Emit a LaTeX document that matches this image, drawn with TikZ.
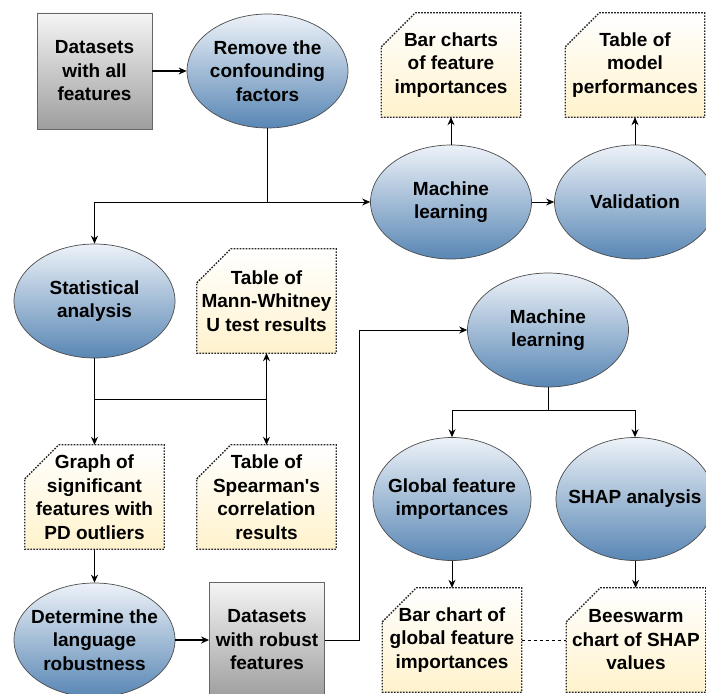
\documentclass[tikz,border=0pt]{standalone}
\usepackage{fontspec}
\setmainfont{Liberation Sans}
\usetikzlibrary{shapes.geometric,positioning,arrows.meta,backgrounds}

\definecolor{ellTop}{HTML}{EDF2F8}
\definecolor{ellBot}{HTML}{5886B4}
\definecolor{boxTop}{HTML}{F5F5F5}
\definecolor{boxBot}{HTML}{9E9E9E}
\definecolor{docBot}{HTML}{FFF2CC}

\tikzset{
  every node/.style={font=\fontsize{19}{23.5}\selectfont\bfseries, align=center, inner sep=0pt},
  process/.style={ellipse, draw=black!70, line width=0.7pt, top color=ellTop, bottom color=ellBot, inner xsep=-15pt, minimum width=161pt, minimum height=114pt},
  dataset/.style={rectangle, draw=black!60, line width=0.8pt, top color=boxTop, bottom color=boxBot, minimum width=115pt, minimum height=116pt},
  output/.style={rectangle, minimum width=139pt, minimum height=104pt},
  docline/.style={draw=black!85, dash pattern=on 1.6pt off 1.4pt, line width=1.3pt, top color=white, bottom color=docBot},
  link/.style={-{Stealth[length=8pt,width=7pt]}, line width=0.8pt},
  thick link/.style={link, line width=1.6pt},
}
\newcommand{\docframe}[1]{\draw[docline] (#1.north west) ++(0,-34) -- ++(34,34) -- (#1.north east) -- (#1.south east) -- (#1.south west) -- cycle;}

\begin{document}
\begin{tikzpicture}[x=1pt, y=1pt, on grid]
    \useasboundingbox (0,0) rectangle (706,-693);
    \clip (0,0) rectangle (706,-693);
    % Nodes
    \node [dataset] (data1) at (94.5,-71) {Datasets\\with all\\features};
    \node [process, right=173pt of data1] (remove) {Remove the\\confounding\\factors};
    \node [process, below right=131pt and 183.5pt of remove] (ml1) {Machine\\learning};
    \node [output, above=137pt of ml1] (bars) {Bar charts\\of feature\\importances};
    \node [process, right=184pt of ml1] (valid) {Validation};
    \node [output, above=137pt of valid] (perf) {Table of\\model\\performances};
    \node [process, below=230pt of data1] (stat) {Statistical\\analysis};
    \node [output, right=172pt of stat] (mw) {Table of\\Mann-Whitney\\U test results};
    \node [output, below=196pt of stat] (graph) {Graph of\\significant\\features with\\PD outliers};
    \node [output, right=172pt of graph] (spear) {Table of\\Spearman\textquotesingle s\\correlation\\results};
    \node [process, below=143pt of graph] (robust) {Determine the\\language\\robustness};
    \node [dataset, right=172.5pt of robust] (data2) {Datasets\\with robust\\features};
    \node [process, above right=310pt and 281pt of data2] (ml2) {Machine\\learning};
    \node [process, minimum width=158pt, minimum height=123pt, below left=169pt and 96pt of ml2] (glob) {Global feature\\importances};
    \node [process, minimum width=158pt, minimum height=123pt, right=183pt of glob] (shap) {SHAP analysis};
    \node [output, below=141pt of glob] (barc) {Bar chart of\\global feature\\importances};
    \node [output, right=184pt of barc] (bees) {Beeswarm\\chart of SHAP\\values};
    % Document frames
    \begin{scope}[on background layer]
        \foreach \d in {bars,perf,mw,graph,spear,barc,bees} {\docframe{\d}}
    \end{scope}
    % Arrows
    \draw[thick link] (data1) -- (remove);
    \draw[link] (remove.south) |- (ml1.west);
    \draw[link] (remove.south |- ml1.west) -| (stat.north);
    \draw[link] (ml1) -- (bars);
    \draw[link] (ml1) -- (valid);
    \draw[link] (valid) -- (perf);
    \path (stat.south) -- coordinate[pos=0.48] (statfork) (graph.north);
    \draw[link] (stat) -- (graph);
    \draw[link] (statfork) -| (mw.south);
    \draw[link] (statfork) -| (spear.north);
    \draw[link] (graph) -- (robust);
    \draw[thick link] (robust) -- (data2);
    \draw[link] (data2.east) -- ++(34,0) |- (ml2.west);
    \path (ml2.south) -- coordinate[pos=0.46] (mlfork) (ml2.south |- glob.north);
    \draw (ml2.south) -- (mlfork);
    \draw[link] (mlfork) -| (glob.north);
    \draw[link] (mlfork) -| (shap.north);
    \draw[link] (glob) -- (barc);
    \draw[link] (shap) -- (bees);
    \draw[dashed, line width=0.8pt] (barc) -- (bees);
\end{tikzpicture}
\end{document}
